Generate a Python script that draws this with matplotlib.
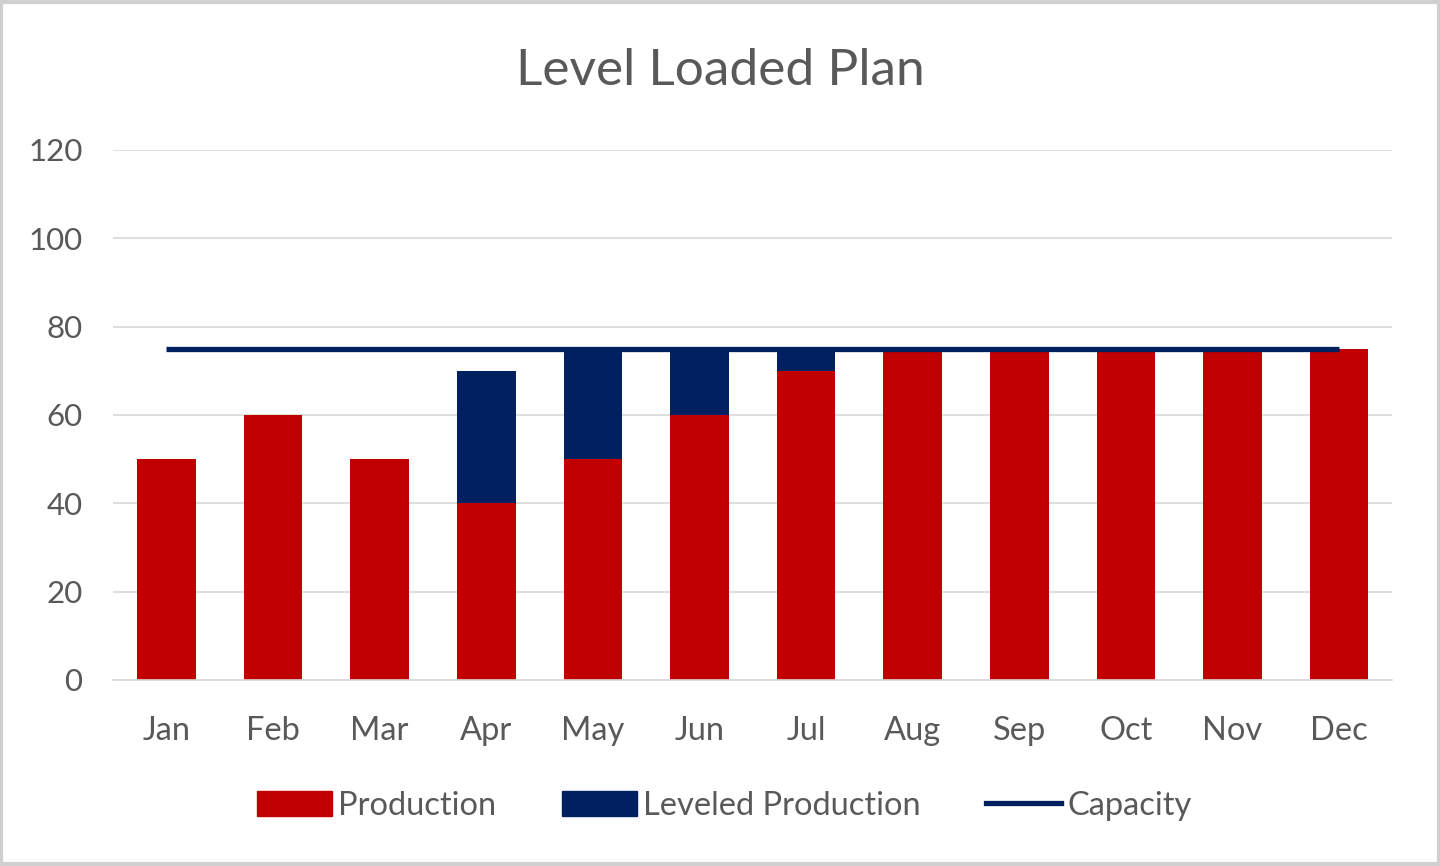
import matplotlib.pyplot as plt
import numpy as np
from matplotlib.lines import Line2D
from matplotlib.patches import Patch

plt.rcParams["font.family"] = ["Lato", "DejaVu Sans"]

months = ["Jan", "Feb", "Mar", "Apr", "May", "Jun",
          "Jul", "Aug", "Sep", "Oct", "Nov", "Dec"]
production = [50, 60, 50, 40, 50, 60, 70, 75, 75, 75, 75, 75]
leveled = [0, 0, 0, 30, 25, 15, 5, 0, 0, 0, 0, 0]
capacity = [75] * 12

red = "#C00000"
navy = "#002060"
text_col = "#595959"

fig = plt.figure(figsize=(14.4, 8.66), dpi=100)
ax = fig.add_axes([0.0785, 0.2148, 0.8885, 0.612])

x = np.arange(len(months))
ax.bar(x, production, width=0.55, color=red, zorder=2)
ax.bar(x, leveled, width=0.55, bottom=production, color=navy, zorder=2)
ax.plot(x, capacity, color=navy, linewidth=3.8, solid_capstyle="butt", zorder=3)

ax.set_xlim(-0.5, len(months) - 0.5)
ax.set_ylim(0, 120)
ax.set_yticks(range(0, 121, 20))
ax.set_xticks(x)
ax.set_xticklabels(months)
ax.yaxis.grid(True, color="#D9D9D9", linewidth=1.2, zorder=0)
ax.tick_params(axis="both", length=0, labelcolor=text_col)
ax.tick_params(axis="y", pad=22, labelsize=22.5)
ax.tick_params(axis="x", pad=26, labelsize=23.5)
for s in ax.spines.values():
    s.set_visible(False)
ax.spines["bottom"].set_visible(True)
ax.spines["bottom"].set_color("#D9D9D9")
ax.spines["bottom"].set_linewidth(1.2)

fig.text(0.5, 0.918, "Level Loaded Plan", ha="center", va="center",
         fontsize=37, color=text_col)

handles = [Patch(color=red, label="Production"),
           Patch(color=navy, label="Leveled Production"),
           Line2D([0], [0], color=navy, linewidth=3.8, label="Capacity")]
fig.legend(handles=handles, loc="center", bbox_to_anchor=(0.503, 0.069),
           ncol=3, frameon=False, fontsize=23.5, labelcolor=text_col,
           handlelength=2.3, handleheight=0.8, handletextpad=0.2,
           columnspacing=2.0)

border = plt.Rectangle((0.001, 0.002), 0.998, 0.996, transform=fig.transFigure,
                       fill=False, edgecolor="#D0D0D0", linewidth=3)
fig.patches.append(border)

fig.savefig("out.png", dpi=100)
